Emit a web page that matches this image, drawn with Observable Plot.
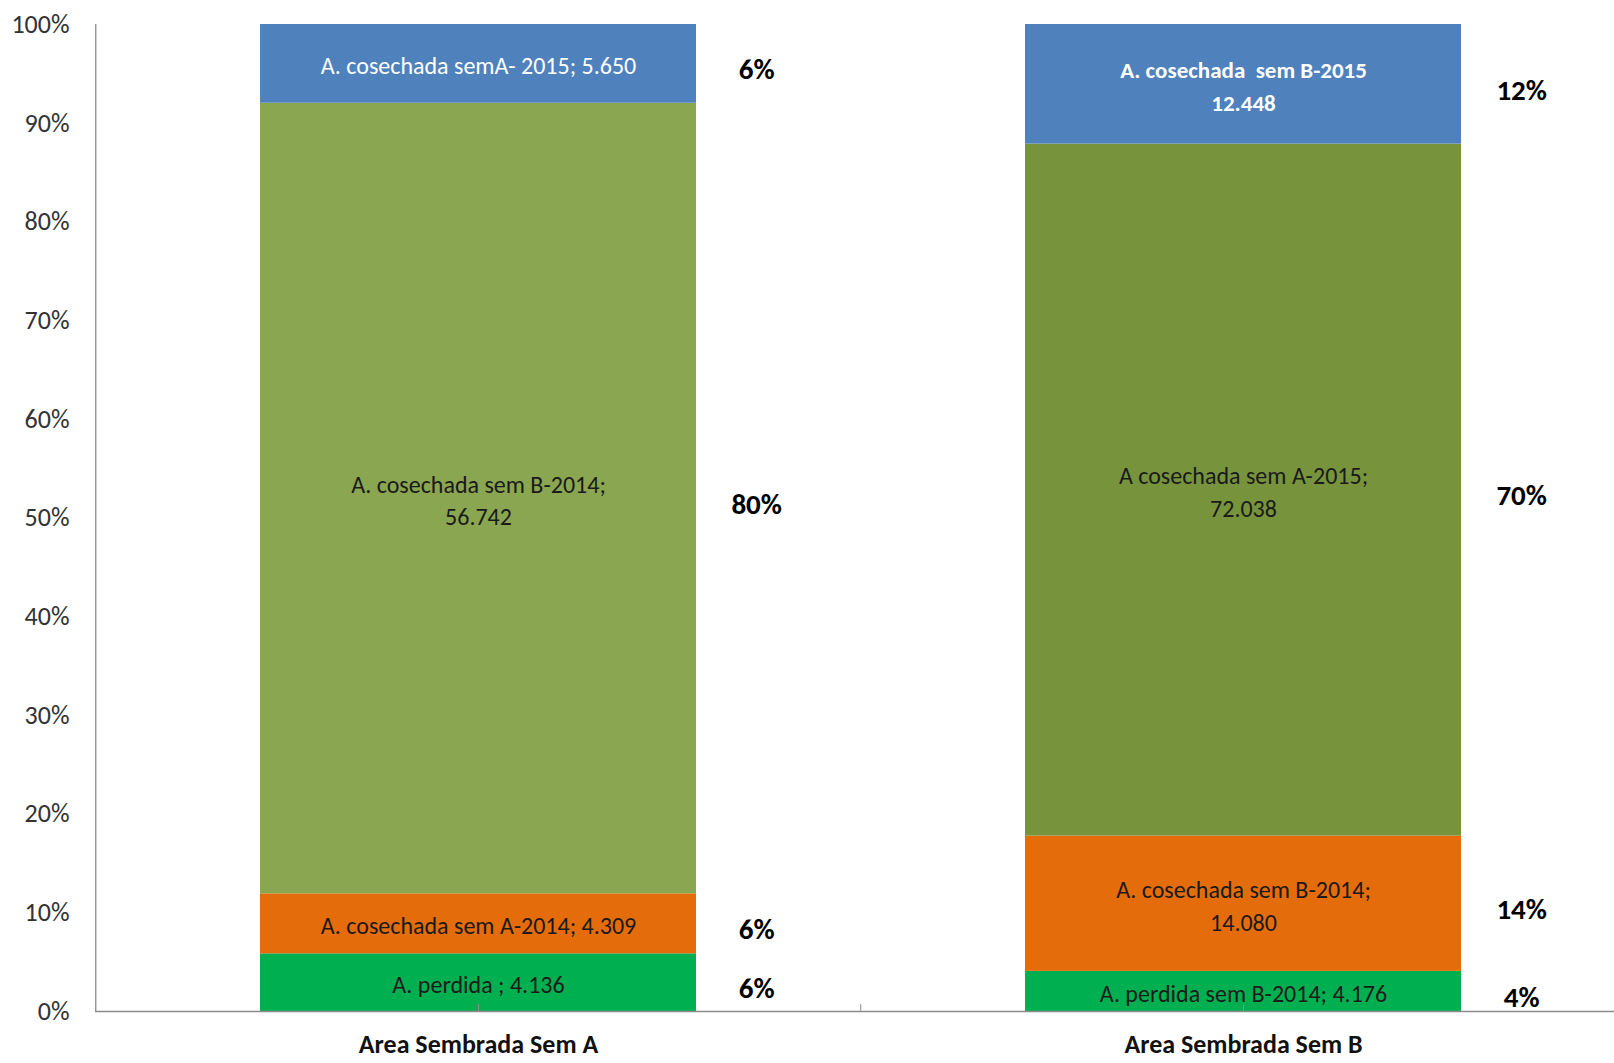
<!DOCTYPE html>
<html>
<head>
<meta charset="utf-8">
<script src="https://cdn.jsdelivr.net/npm/d3@7"></script>
<script src="https://cdn.jsdelivr.net/npm/@observablehq/plot@0.6"></script>
<style>
  html, body { margin: 0; padding: 0; background: #fff; overflow: hidden; }
  #chart svg { display: block; }
</style>
</head>
<body>
<div id="chart"></div>
<script>
// ---- data ----
const categories = ["Area Sembrada Sem A", "Area Sembrada Sem B"];
const layers = ["perdida", "cosechada1", "cosechada2", "cosechada3"];
const valuesA = [4136, 4309, 56742, 5650];
const valuesB = [4176, 14080, 72038, 12448];
const labelsA = [
  "A. perdida ; 4.136",
  "A. cosechada sem A-2014; 4.309",
  "A. cosechada sem B-2014;\n56.742",
  "A. cosechada semA- 2015; 5.650"
];
const labelsB = [
  "A. perdida sem B-2014; 4.176",
  "A. cosechada sem B-2014;\n14.080",
  "A cosechada sem A-2015;\n72.038",
  "A. cosechada  sem B-2015\n12.448"
];
const pctA = ["6%", "6%", "80%", "6%"];
const pctB = ["4%", "14%", "70%", "12%"];
const yTicks = [0, 0.1, 0.2, 0.3, 0.4, 0.5, 0.6, 0.7, 0.8, 0.9, 1.0];

// ---- styles ----
const colorsA = ["#00B050", "#E46C0A", "#8AA650", "#4F81BD"];
const colorsB = ["#00B050", "#E46C0A", "#77933C", "#4F81BD"];
const labelColorsA = ["#1a1a1a", "#1a1a1a", "#1a1a1a", "#ffffff"];
const labelColorsB = ["#1a1a1a", "#1a1a1a", "#1a1a1a", "#ffffff"];
const boldB = [false, false, false, true];

const values = [valuesA, valuesB];
const labels = [labelsA, labelsB];
const pcts = [pctA, pctB];
const colors = [colorsA, colorsB];
const labelColors = [labelColorsA, labelColorsB];
const bold = [[false, false, false, false], boldB];

const rows = categories.flatMap((c, i) => layers.map((l, j) => ({
  cat: c, layer: l, value: values[i][j], label: labels[i][j], pct: pcts[i][j],
  fill: colors[i][j], textFill: labelColors[i][j], bold: bold[i][j]
})));

const W = 1614, H = 1063;
const xRange = [95, 1626];
const step = (xRange[1] - xRange[0]) / categories.length;
const paddingInner = 0.43;
const bandwidth = step * (1 - paddingInner);
const font = "Carlito, Calibri, Lato, sans-serif";
const stackOpts = {x: "cat", y: "value", z: "layer", offset: "normalize", order: null};

const chart = Plot.plot({
  width: W,
  height: H,
  marginLeft: 95,
  marginRight: 0,
  marginTop: 24,
  marginBottom: 52,
  style: {fontFamily: font, background: "#fff"},
  x: {domain: categories, range: xRange, paddingInner, paddingOuter: paddingInner / 2, label: null},
  y: {domain: [0, 1], label: null},
  color: {type: "identity"},
  marks: [
    Plot.barY(rows, Plot.stackY({...stackOpts, fill: "fill"})),
    // inner labels (regular)
    Plot.text(rows, Plot.stackY({...stackOpts,
      text: d => d.bold ? null : d.label, fill: "textFill",
      fontSize: 24, lineHeight: 1.37})),
    // inner labels (bold)
    Plot.text(rows, Plot.stackY({...stackOpts,
      text: d => d.bold ? d.label : null, fill: "textFill",
      fontSize: 23, lineHeight: 1.43, fontWeight: "bold"})),
    // percentage labels to the right of each bar
    Plot.text(rows, Plot.stackY({...stackOpts,
      text: "pct", fill: "#000", fontSize: 29, fontWeight: "bold",
      dx: bandwidth / 2 + 60, dy: 6})),
    // axis lines
    Plot.ruleY([0], {stroke: "#8c8c8c", strokeWidth: 1.3}),
    Plot.ruleX([categories[0]], {dx: -step / 2, stroke: "#8c8c8c", strokeWidth: 1.3}),
    // small ticks on the category axis
    Plot.ruleX(categories, {x: d => d, y1: 0, y2: 0.007, stroke: "#8c8c8c"}),
    Plot.ruleX([categories[1]], {x: d => d, dx: -step / 2, y1: 0, y2: 0.007, stroke: "#8c8c8c"}),
    Plot.axisY({ticks: yTicks, tickFormat: d3.format(".0%"), tickSize: 0, tickPadding: 26,
      fontSize: 26, color: "#333"}),
    Plot.axisX({tickSize: 0, tickPadding: 23, fontSize: 26, fontWeight: "bold", color: "#111"})
  ]
});
document.getElementById("chart").appendChild(chart);
</script>
</body>
</html>
